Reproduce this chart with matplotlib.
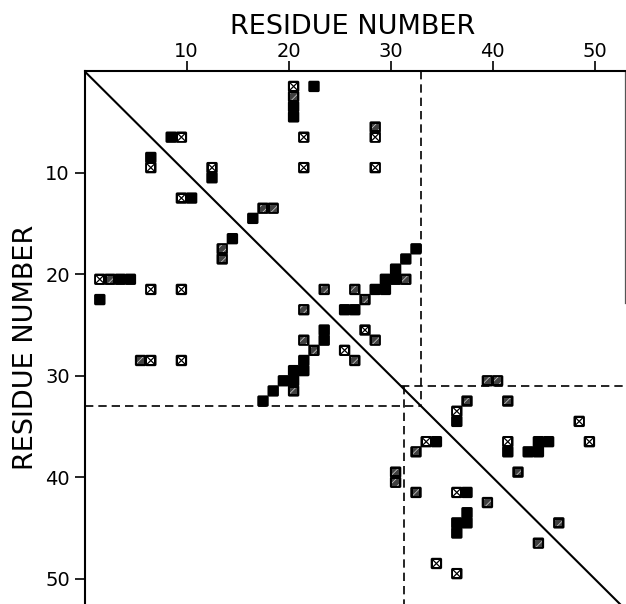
"""Residue contact map: black / hatched / crossed cells, diagonal and domain boxes."""
import matplotlib
matplotlib.use('Agg')
import matplotlib.pyplot as plt
from matplotlib.patches import FancyBboxPatch, Rectangle

# cell = residue pair (col, row); a cell spans [col-1, col] x [row-1, row]
black_col = [23, 21, 21, 9, 7, 13, 11, 17, 15,
             4, 5, 2,
             33, 32, 31, 31, 30, 30, 29, 26, 27,
             24, 24, 22, 22, 21, 21, 20, 19, 18,
             37, 35, 45, 46, 42, 44, 45, 38, 38, 38, 37, 37]
black_row = [2, 4, 5, 7, 9, 11, 13, 15, 17,
             21, 21, 23,
             18, 19, 20, 21, 21, 22, 22, 24, 24,
             26, 27, 29, 30, 30, 31, 31, 32, 33,
             35, 37, 37, 37, 38, 38, 38, 42, 44, 45, 45, 46]

hatch_col = [21, 29, 18, 19, 14, 14, 3, 6,
             32, 24, 27, 28, 22, 22, 29, 23, 27, 21,
             40, 41, 38, 42, 33, 31, 31, 43, 33, 40, 47, 45]
hatch_row = [3, 6, 14, 14, 18, 19, 21, 29,
             21, 22, 22, 23, 24, 27, 27, 28, 29, 32,
             31, 31, 33, 33, 38, 40, 41, 40, 42, 43, 45, 47]

cross_col = [21, 10, 22, 29, 7, 13, 22, 29, 10, 2, 7, 10, 7, 10,
             28, 26,
             37, 49, 34, 42, 50, 37, 35, 37]
cross_row = [2, 7, 7, 7, 10, 10, 10, 10, 13, 21, 22, 22, 29, 29,
             26, 28,
             34, 35, 37, 37, 37, 42, 49, 50]

tick_vals = [10, 20, 30, 40, 50]
axis_title = 'RESIDUE NUMBER'

# domain boundaries (dashed)
dom1 = 33
dom2_h, dom2_v = 31, 31.3

W, H = 626, 604
plt.rcParams['hatch.linewidth'] = 0.5


def base_cell(ax, c, r):
    # slightly oversized so neighbouring cells merge into one block
    ax.add_patch(FancyBboxPatch((c - 1, r - 1), 1.0, 1.0,
                                boxstyle='round,pad=0.06,rounding_size=0.16',
                                fc='black', ec='none', zorder=3))


def main():
    fig = plt.figure(figsize=(W / 100, H / 100), dpi=100)
    ax = fig.add_axes([84.5 / W, 0, 540.6 / W, (H - 71.2) / H])
    ax.set_xlim(0, 53)
    ax.set_ylim((H - 71.2) / 10.15, 0)

    for c, r in zip(black_col, black_row):
        base_cell(ax, c, r)
    for c, r in zip(hatch_col, hatch_row):
        base_cell(ax, c, r)
        ax.add_patch(Rectangle((c - 1 + 0.17, r - 1 + 0.17), 0.66, 0.66,
                               fc='#404040', ec='#d8d8d8', lw=0,
                               hatch='////', zorder=4))
    for c, r in zip(cross_col, cross_row):
        base_cell(ax, c, r)
        x0, y0 = c - 1 + 0.17, r - 1 + 0.17
        ax.add_patch(Rectangle((x0, y0), 0.66, 0.66, fc='white', ec='none', zorder=4))
        ax.plot([x0, x0 + 0.66], [y0, y0 + 0.66], color='black', lw=0.9, zorder=5)
        ax.plot([x0, x0 + 0.66], [y0 + 0.66, y0], color='black', lw=0.9, zorder=5)

    # diagonal
    ax.plot([0, 60], [0, 60], color='black', lw=1.5, zorder=2)

    # dashed domain boxes
    dash = dict(color='black', lw=1.2, ls=(0, (5, 3)), zorder=2)
    ax.plot([dom1, dom1], [0, dom1], **dash)
    ax.plot([0, dom1], [dom1, dom1], **dash)
    ax.plot([dom2_h, 53], [dom2_h, dom2_h], **dash)
    ax.plot([dom2_v, dom2_v], [dom2_h, 60], **dash)

    # frame: left + top only, short piece on the right
    for s in ('bottom', 'right'):
        ax.spines[s].set_visible(False)
    for s in ('left', 'top'):
        ax.spines[s].set_linewidth(1.5)
    ax.plot([53, 53], [0, 22.8], color='#555555', lw=0.9, clip_on=False)

    ax.xaxis.tick_top()
    ax.set_xticks(tick_vals)
    ax.set_yticks(tick_vals)
    ax.tick_params(axis='x', top=True, bottom=False, direction='out',
                   length=7.2, width=1.2, pad=0, labelsize=14)
    ax.tick_params(axis='y', left=True, direction='out',
                   length=7, width=1.2, pad=3.6, labelsize=14)

    fig.text(352.5 / W, 1 - 34 / H, axis_title, fontsize=19.5,
             ha='center', va='baseline')
    fig.text(33 / W, 1 - 347 / H, axis_title, fontsize=19.5, rotation=90,
             rotation_mode='anchor', ha='center', va='baseline')

    fig.savefig('out.png', dpi=100)


if __name__ == '__main__':
    main()
